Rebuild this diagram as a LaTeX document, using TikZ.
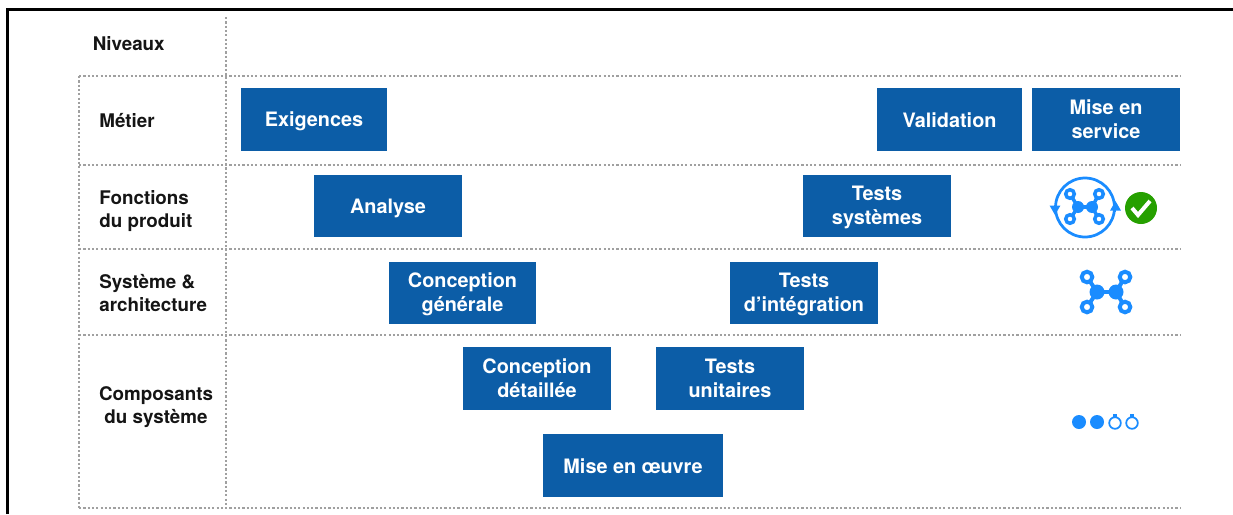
\documentclass[tikz,border=0pt]{standalone}
\usepackage{fontspec}
\setmainfont{TeX Gyre Heros}
\usetikzlibrary{arrows.meta}
\definecolor{boxblue}{HTML}{0C5DA7}
\definecolor{iconblue}{HTML}{1A8CFF}
\definecolor{okgreen}{HTML}{26A000}
\definecolor{dotgray}{HTML}{A0A0A0}
\definecolor{labelblack}{HTML}{151515}
\newcommand{\boxstrut}{\rule[-2pt]{0pt}{12.9pt}}
\newcommand{\twostrut}{\rule{0pt}{9.9pt}}

\begin{document}
\begin{tikzpicture}[x=0.02cm, y=-0.02cm]

            \tikzstyle{stagebox} = [fill=boxblue, text=white, font=\fontsize{11.3}{13.3}\selectfont\bfseries, align=center, inner sep=0, minimum height=1.25cm, execute at begin node=\boxstrut, execute at end node=\boxstrut];
            \tikzstyle{levellabel} = [anchor=west, text=labelblack, font=\fontsize{10.7}{13.2}\selectfont\bfseries, align=left, inner sep=0];
            \tikzstyle{dotline} = [dotgray, line width=0.05cm, dash pattern=on 0.044cm off 0.042cm];
            \tikzstyle{frameline} = [black, line width=0.06cm];
            \tikzstyle{iconline} = [iconblue, line width=0.055cm];
            \tikzstyle{icontip} = [iconblue, line width=0.03cm, -{Triangle[length=0.19cm, width=0.21cm]}];

            \useasboundingbox (0,0) rectangle (1233,514);

            \coordinate (framecorner) at (7.5,9.5);
            \coordinate (frametop) at (1233,9.5);
            \coordinate (framebottom) at (7.5,514);
            \draw[frameline] (framebottom) -- (framecorner) -- (frametop);

            % grid of levels
            \foreach \rowy in {76,165,249,335,508} {
                \coordinate (rowa) at (79,\rowy);
                \coordinate (rowb) at (1180,\rowy);
                \draw[dotline] (rowa) -- (rowb);
            }
            \coordinate (cola) at (79,76);
            \coordinate (colb) at (79,508);
            \coordinate (colc) at (226,17);
            \coordinate (cold) at (226,508);
            \draw[dotline] (cola) -- (colb);
            \draw[dotline] (colc) -- (cold);

            \node[levellabel] (niveaux) at (92.5,44) {Niveaux};
            \node[levellabel] (metier) at (99,120.5) {Métier};
            \node[levellabel] (fonctions) at (99,211) {Fonctions\\du produit};
            \node[levellabel] (systeme) at (99,293) {Système \&\\architecture};
            \node[levellabel, anchor=center, align=center] (composants) at (156,407) {Composants\\du système};

            \node[stagebox, minimum width=2.92cm] (exigences) at (314,119.5) {Exigences};
            \node[stagebox, minimum width=2.90cm] (validation) at (949.5,119.5) {Validation};
            \node[stagebox, minimum width=2.96cm] (service) at (1106,119.5) {\twostrut Mise en\\service};
            \node[stagebox, minimum width=2.96cm] (analyse) at (388,206) {Analyse};
            \node[stagebox, minimum width=2.96cm] (testssys) at (877,206) {\twostrut Tests\\systèmes};
            \node[stagebox, minimum width=2.94cm] (generale) at (462.5,293) {\twostrut Conception\\générale};
            \node[stagebox, minimum width=2.96cm] (testsint) at (804,293) {\twostrut Tests\\d’intégration};
            \node[stagebox, minimum width=2.96cm] (detaillee) at (537,378.5) {\twostrut Conception\\détaillée};
            \node[stagebox, minimum width=2.96cm] (testsuni) at (730,378.5) {\twostrut Tests\\unitaires};
            \node[stagebox, minimum width=3.60cm] (oeuvre) at (633,465.5) {Mise en œuvre};

            % icon with the loop
            \draw[iconline] (1085,207.5) circle (29.5);
            \coordinate (tipa) at (1055,205);
            \coordinate (tipb) at (1055,215);
            \coordinate (tipc) at (1115.5,212);
            \coordinate (tipd) at (1115.5,201);
            \draw[icontip] (tipa) -- (tipb);
            \draw[icontip] (tipc) -- (tipd);
            \draw[iconblue, line width=0.07cm] (1078,207) -- (1092,207);
            \foreach \ax/\ay/\bx in {1070/194/1078, 1099/194/1092, 1070/219/1078, 1099/219/1092} {
                \draw[iconblue, line width=0.07cm] (\ax,\ay) -- (\bx,207);
                \draw[iconblue, line width=0.07cm, fill=white] (\ax,\ay) circle (4.3);
            }
            \fill[iconblue] (1078,207) circle (6);
            \fill[iconblue] (1092,207) circle (6);

            \fill[okgreen] (1141,208) circle (16);
            \draw[white, line width=0.08cm] (1132,208) -- (1138,215) -- (1150,201);

            % icon alone
            \draw[iconblue, line width=0.09cm] (1097,292) -- (1116,292);
            \foreach \ax/\ay/\bx in {1087/277/1097, 1125/277/1116, 1087/307/1097, 1125/307/1116} {
                \draw[iconblue, line width=0.08cm] (\ax,\ay) -- (\bx,292);
                \draw[iconblue, line width=0.08cm, fill=white] (\ax,\ay) circle (5.3);
            }
            \fill[iconblue] (1097,292) circle (7.5);
            \fill[iconblue] (1116,292) circle (7.5);

            % progress dots
            \fill[iconblue] (1079,422) circle (7);
            \fill[iconblue] (1097,422) circle (7);
            \foreach \dotx in {1115,1132} {
                \draw[iconblue, line width=0.035cm] (\dotx,423) circle (5.8);
                \fill[iconblue] (\dotx-2,414) rectangle (\dotx+2,418);
            }

        \end{tikzpicture}
\end{document}
